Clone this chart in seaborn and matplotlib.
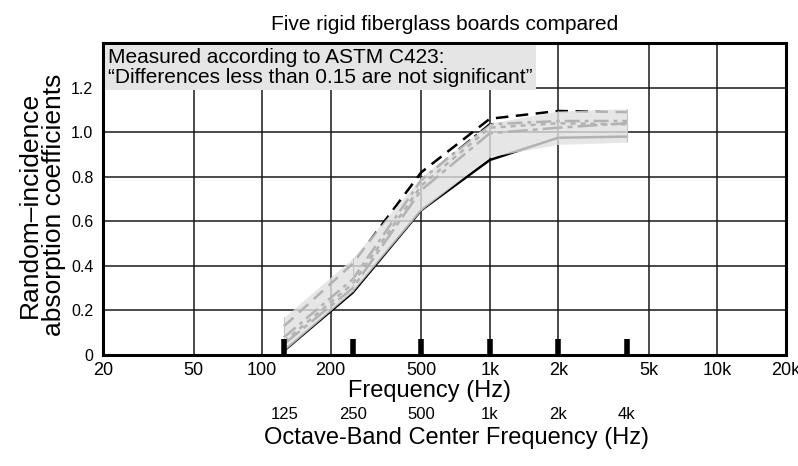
import matplotlib
matplotlib.use("Agg")
import matplotlib.pyplot as plt
import numpy as np
import pandas as pd
import seaborn as sns
from matplotlib.ticker import FixedLocator, NullLocator

# Octave-band centre frequencies and their printed labels
octave_hz = [125, 250, 500, 1000, 2000, 4000]
octave_labels = ["125", "250", "500", "1k", "2k", "4k"]

# Random-incidence absorption coefficients for the five boards
board_names = ["Board A", "Board B", "Board C", "Board D", "Board E"]
board_a = [0.02, 0.28, 0.65, 0.875, 0.975, 0.98]
board_b = [0.13, 0.41, 0.82, 1.06, 1.095, 1.09]
board_c = [0.08, 0.34, 0.785, 1.035, 1.05, 1.05]
board_d = [0.06, 0.32, 0.76, 1.02, 1.04, 1.035]
board_e = [0.05, 0.30, 0.74, 0.995, 1.02, 1.04]

# Centre of the "not significant" band and its full width
band_center = [0.095, 0.36, 0.725, 0.965, 1.02, 1.03]
significance = 0.15

# Axis ticks
freq_ticks = [20, 50, 100, 200, 500, 1000, 2000, 5000, 10000, 20000]
freq_labels = ["20", "50", "100", "200", "500", "1k", "2k", "5k", "10k", "20k"]
alpha_ticks = [0, 0.2, 0.4, 0.6, 0.8, 1.0, 1.2]
alpha_labels = ["0", "0.2", "0.4", "0.6", "0.8", "1.0", "1.2"]

sns.set_style("white")
plt.rcParams.update({
    "font.family": ["Liberation Sans", "DejaVu Sans"],
    "text.color": "black",
    "axes.labelcolor": "black",
    "xtick.color": "black",
    "ytick.color": "black",
})

df = pd.DataFrame({
    "board": np.repeat(board_names, len(octave_hz)),
    "freq": octave_hz * len(board_names),
    "alpha": board_a + board_b + board_c + board_d + board_e,
})

W, H = 798, 466
fig = plt.figure(figsize=(W / 100, H / 100), dpi=100)
ax = fig.add_axes([103 / W, 1 - 355 / H, (786 - 103) / W, (355 - 43) / H])
ax.set_xscale("log")
ax.set_xlim(20, 20000)
ax.set_ylim(0, 1.4)

line_dashes = {
    "Board A": "",
    "Board B": (5, 3),
    "Board C": (6, 2, 1.5, 2),
    "Board D": (2, 2),
    "Board E": (8, 2, 2, 2),
}
sns.lineplot(data=df, x="freq", y="alpha", style="board", dashes=line_dashes,
             color="black", linewidth=1.8, legend=False, ax=ax, zorder=3)

# Shaded band: differences smaller than 0.15 are not significant
half = significance / 2
lower = [c - half for c in band_center]
upper = [c + half for c in band_center]
ax.fill_between(octave_hz, lower, upper, color="#e0e0e0", alpha=0.8,
                linewidth=0, zorder=5)
ax.vlines(octave_hz, lower, upper, color="#c4c4c4", linewidth=0.8, zorder=6)

# Octave-band markers along the bottom
ax.vlines(octave_hz, 0, 0.07, color="black", linewidth=4, zorder=7)

# Grid and ticks
ax.xaxis.set_major_locator(FixedLocator(freq_ticks))
ax.xaxis.set_minor_locator(NullLocator())
ax.set_xticklabels(freq_labels, fontsize=13)
ax.set_yticks(alpha_ticks)
ax.set_yticklabels(alpha_labels, fontsize=11.5)
ax.tick_params(axis="x", length=0, pad=5, colors="black")
ax.tick_params(axis="y", length=3, width=1, pad=4, colors="black")
ax.grid(True, color="#1a1a1a", linewidth=1.1, zorder=1)
ax.set_axisbelow(True)
for s in ax.spines.values():
    s.set_visible(True)
    s.set_color("black")
    s.set_linewidth(2.2)

def ax_x(px):
    return (px - 103) / (786 - 103)

def ax_y(py):
    return (355 - py) / (355 - 43)

ax.set_xlabel("Frequency (Hz)", fontsize=17)
ax.xaxis.set_label_coords(ax_x(430), ax_y(380))
ax.set_ylabel("Random\u2013incidence\nabsorption coefficients", fontsize=19,
              linespacing=1.0)
ax.yaxis.set_label_coords(ax_x(66), ax_y(205))
ax.set_title("Five rigid fiberglass boards compared", fontsize=15, pad=9)

ax.text(0.008, 0.985,
        "Measured according to ASTM C423:\n\u201cDifferences less than 0.15 are not significant\u201d",
        transform=ax.transAxes, ha="left", va="top", fontsize=15, linespacing=1.1,
        bbox=dict(boxstyle="square,pad=0.15", fc="#e5e5e5", ec="none"), zorder=10)

# Second scale naming the octave bands
sec = ax.secondary_xaxis(ax_y(404))
sec.xaxis.set_major_locator(FixedLocator(octave_hz))
sec.xaxis.set_minor_locator(NullLocator())
sec.set_xticklabels(octave_labels, fontsize=12)
sec.tick_params(length=0, pad=2, colors="black")
sec.spines["bottom"].set_visible(False)
ax.text(ax_x(456), ax_y(438), "Octave-Band Center Frequency (Hz)",
        transform=ax.transAxes, ha="center", va="center", fontsize=17)

fig.savefig("out.png", dpi=100)
